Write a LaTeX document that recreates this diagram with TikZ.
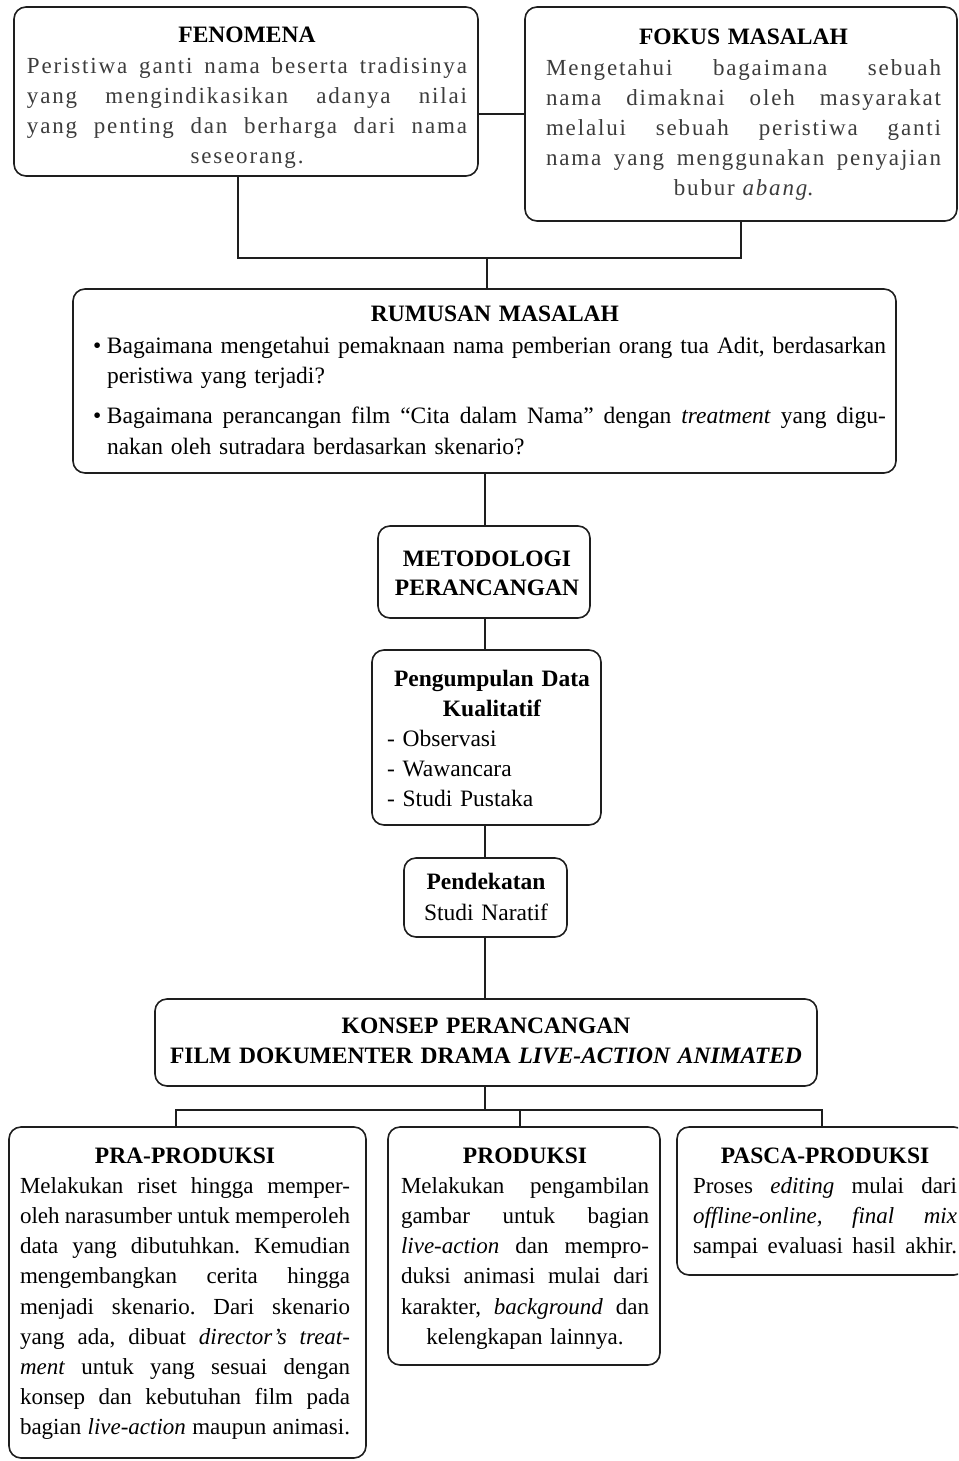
\documentclass[tikz,border=0pt]{standalone}
\usepackage{fontspec}
\setmainfont{Liberation Serif}
\newfontfamily\spacedfont[LetterSpace=8]{Liberation Serif}
\definecolor{ln}{HTML}{1E1E1E}
\definecolor{gtx}{HTML}{3C3C3C}
\newcommand\jl[2]{\makebox[#1pt][s]{\frenchspacing\spaceskip=0.25em plus 4em minus 0.05em\xspaceskip=\spaceskip #2}}
\newcommand\lft[2]{\makebox[#1pt][l]{#2}}
\newcommand\ttl[1]{{\rmfamily\bfseries\color{black}\fontsize{23.5}{30.2}\selectfont #1}}
\begin{document}
\begin{tikzpicture}[x=1pt,y=-1pt,
  box/.style={draw=ln, line width=1.6pt, rounded corners=12pt, inner sep=0pt, fill=white},
  conn/.style={draw=ln, line width=1.4pt},
  txt/.style={inner sep=0pt, anchor=base, align=center, text=black, font=\fontsize{23}{30.2}\selectfont},
  gtxt/.style={txt, text=gtx, font=\fontsize{23}{30.2}\spacedfont}]
\useasboundingbox (0,0) rectangle (958,1461);
\fill[white] (0,0) rectangle (958,1461);
\clip (0,0) rectangle (958,1461);

% boxes
\node[box, minimum width=464pt, minimum height=169pt] (fen) at (246,91.5) {};
\node[box, minimum width=432pt, minimum height=214pt] (fok) at (741,114) {};
\node[box, minimum width=823pt, minimum height=184pt] (rum) at (484.5,381) {};
\node[box, minimum width=212pt, minimum height=92pt] (met) at (484,572) {};
\node[box, minimum width=229pt, minimum height=175pt] (pen) at (486.5,737.5) {};
\node[box, minimum width=163pt, minimum height=79pt] (pdk) at (485.5,897.5) {};
\node[box, minimum width=662pt, minimum height=87pt] (kon) at (486,1042.5) {};
\node[box, minimum width=357pt, minimum height=331pt] (pra) at (187.5,1292.5) {};
\node[box, minimum width=272pt, minimum height=238pt] (pro) at (524,1246) {};
\node[box, minimum width=289pt, minimum height=148pt] (pas) at (821.5,1201) {};

% texts
\node[gtxt, text width=440pt] (fent) at (247,43) {\ttl{FENOMENA}\\
\jl{440}{Peristiwa ganti nama beserta tradisinya}\\
\jl{440}{yang mengindikasikan adanya nilai}\\
\jl{440}{yang penting dan berharga dari nama}\\
seseorang.};

\node[gtxt, text width=395pt] (fokt) at (743.5,45) {\ttl{FOKUS MASALAH}\\
\jl{395}{Mengetahui bagaimana sebuah}\\
\jl{395}{nama dimaknai oleh masyarakat}\\
\jl{395}{melalui sebuah peristiwa ganti}\\
\jl{395}{nama yang menggunakan penyajian}\\
bubur \textit{abang}.};

\node[txt, text width=793pt, font=\fontsize{23.5}{30.5}\selectfont] (rumt) at (489.5,321) {\makebox[793pt]{\hspace{11pt}\ttl{RUMUSAN MASALAH}}\\[1.5pt]
\lft{14}{\textbullet}\jl{779}{Bagaimana mengetahui pemaknaan nama pemberian orang tua Adit, berdasarkan}\\
\lft{793}{\hspace{14pt}peristiwa yang terjadi?}\\[9.5pt]
\lft{14}{\textbullet}\jl{779}{Bagaimana perancangan film “Cita dalam Nama” dengan \textit{treatment} yang digu-}\\
\lft{793}{\hspace{14pt}nakan oleh sutradara berdasarkan skenario?}};

\node[txt, text width=220pt, font=\fontsize{23.5}{29.5}\selectfont\bfseries] (mett) at (487,566) {METODOLOGI\\PERANCANGAN};

\node[txt, text width=210pt, font=\fontsize{23.5}{30}\selectfont] (pent) at (492,686) {\textbf{Pengumpulan Data}\\\textbf{Kualitatif}\\
\lft{210}{- Observasi}\\\lft{210}{- Wawancara}\\\lft{210}{- Studi Pustaka}};

\node[txt, text width=160pt, font=\fontsize{23.5}{30.5}\selectfont] (pdkt) at (486,889.5) {\textbf{Pendekatan}\\Studi Naratif};

\node[txt, text width=640pt, font=\fontsize{23.5}{30}\selectfont\bfseries] (kont) at (486,1033) {KONSEP PERANCANGAN\\FILM DOKUMENTER DRAMA \textit{LIVE-ACTION ANIMATED}};

\node[txt, text width=330pt] (prat) at (185,1163) {\ttl{PRA-PRODUKSI}\\
\jl{330}{Melakukan riset hingga memper-}\\
\jl{330}{oleh narasumber untuk memperoleh}\\
\jl{330}{data yang dibutuhkan. Kemudian}\\
\jl{330}{mengembangkan cerita hingga}\\
\jl{330}{menjadi skenario. Dari skenario}\\
\jl{330}{yang ada, dibuat \textit{director’s treat-}}\\
\jl{330}{\textit{ment} untuk yang sesuai dengan}\\
\jl{330}{konsep dan kebutuhan film pada}\\
\jl{330}{bagian \textit{live-action} maupun animasi.}};

\node[txt, text width=248pt] (prot) at (525,1163) {\ttl{PRODUKSI}\\
\jl{248}{Melakukan pengambilan}\\
\jl{248}{gambar untuk bagian}\\
\jl{248}{\textit{live-action} dan mempro-}\\
\jl{248}{duksi animasi mulai dari}\\
\jl{248}{karakter, \textit{background} dan}\\
kelengkapan lainnya.};

\node[txt, text width=264pt] (past) at (825,1163) {\ttl{PASCA-PRODUKSI}\\
\jl{264}{Proses \textit{editing} mulai dari}\\
\jl{264}{\textit{offline-online,} \textit{final} \textit{mix}}\\
\jl{264}{sampai evaluasi hasil akhir.}};

% connectors
\coordinate (jl) at (238,258);
\coordinate (jt) at (487,258);
\coordinate (jr) at (fok.south |- jl);
\coordinate (ax) at (485,0);
\draw[conn] (fok.west -| fen.east) -- (fok.west);
\draw[conn] (fen.south -| jl) -- (jl) -- (jr) -- (fok.south);
\draw[conn] (jt) -- (rum.north -| jt);
\draw[conn] (rum.south -| ax) -- (met.north -| ax);
\draw[conn] (met.south -| ax) -- (pen.north -| ax);
\draw[conn] (pen.south -| ax) -- (pdk.north -| ax);
\draw[conn] (pdk.south -| ax) -- (kon.north -| ax);
\coordinate (jb) at (485,1110);
\coordinate (bl) at (176,1110);
\coordinate (bm) at (520,1110);
\coordinate (br) at (822,1110);
\draw[conn] (kon.south -| jb) -- (jb);
\draw[conn] (pra.north -| bl) -- (bl) -- (br) -- (pas.north -| br);
\draw[conn] (bm) -- (pro.north -| bm);
\end{tikzpicture}
\end{document}
